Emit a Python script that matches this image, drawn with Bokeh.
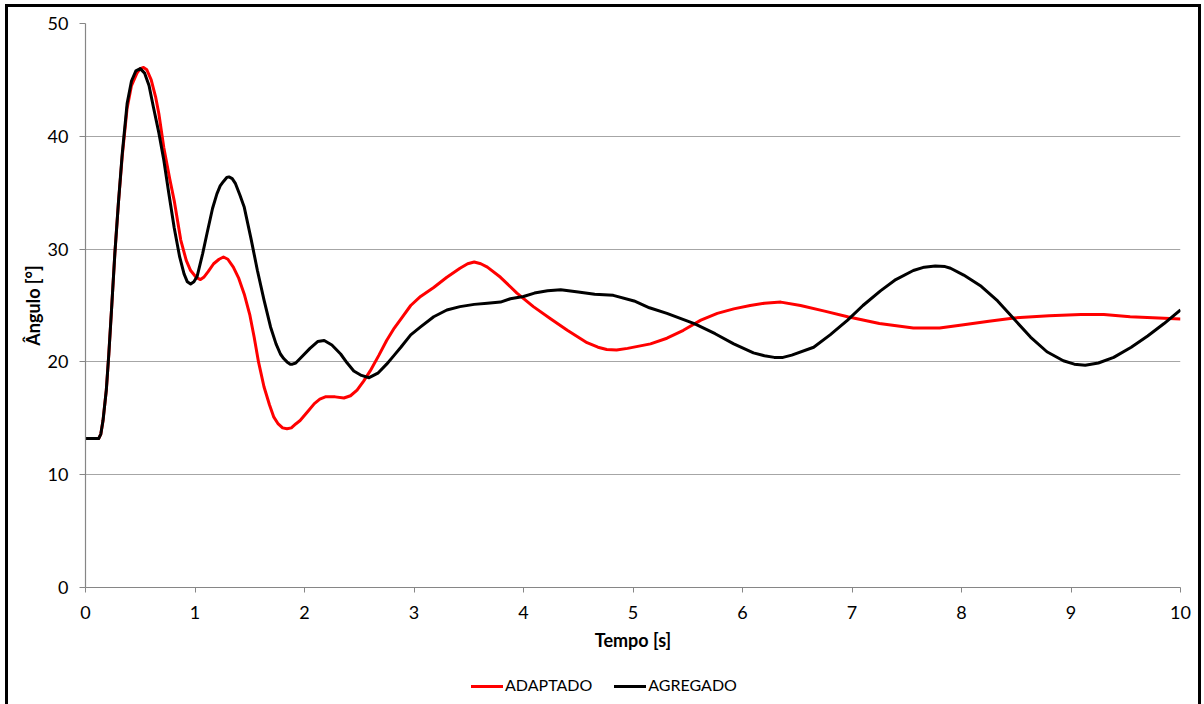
from bokeh.plotting import figure
from bokeh.layouts import column
from bokeh.models import Range1d, FixedTicker, InlineStyleSheet, Div
from bokeh.embed import file_html
from bokeh.resources import INLINE

# Rotor angle response of the two models [s, degrees]
t_adaptado = [0, 0.12, 0.14, 0.16, 0.19, 0.213, 0.24, 0.268, 0.30, 0.335, 0.38, 0.42, 0.47,
              0.50, 0.53, 0.56, 0.60, 0.64, 0.67, 0.715, 0.77, 0.81, 0.87, 0.92, 0.96,
              1.01, 1.05, 1.08, 1.12, 1.17, 1.22, 1.26, 1.30, 1.35, 1.40, 1.45, 1.50,
              1.54, 1.58, 1.63, 1.68, 1.72, 1.76, 1.80, 1.84, 1.88, 1.92, 1.96, 2.03,
              2.09, 2.14, 2.19, 2.28, 2.36, 2.42, 2.48, 2.54, 2.60, 2.68, 2.75, 2.82,
              2.88, 2.97, 3.06, 3.18, 3.30, 3.42, 3.49, 3.55, 3.61, 3.67, 3.79, 3.94,
              4.09, 4.25, 4.40, 4.58, 4.68, 4.76, 4.85, 4.95, 5.16, 5.31, 5.46, 5.62,
              5.77, 5.92, 6.07, 6.20, 6.35, 6.53, 6.75, 6.96, 7.25, 7.56, 7.80, 8.02,
              8.25, 8.48, 8.80, 9.09, 9.30, 9.54, 9.80, 10.0]
adaptado = [13.2, 13.2, 13.6, 14.8, 17.5, 20.7, 25.0, 29.6, 34.0, 38.2, 42.5, 44.5, 45.6,
            46.0, 46.1, 45.9, 45.0, 43.5, 42.0, 39.0, 36.2, 34.3, 30.8, 29.0, 28.1,
            27.5, 27.3, 27.5, 28.0, 28.7, 29.1, 29.3, 29.1, 28.4, 27.4, 26.0, 24.2,
            22.2, 20.0, 17.8, 16.2, 15.1, 14.5, 14.15, 14.07, 14.15, 14.5, 14.8, 15.6,
            16.3, 16.7, 16.9, 16.9, 16.8, 17.0, 17.5, 18.3, 19.2, 20.6, 21.9, 23.0,
            23.8, 25.0, 25.8, 26.6, 27.5, 28.3, 28.7, 28.85, 28.7, 28.4, 27.5, 26.1,
            24.9, 23.8, 22.8, 21.7, 21.3, 21.1, 21.05, 21.2, 21.6, 22.1, 22.8, 23.7,
            24.3, 24.7, 25.0, 25.2, 25.3, 25.0, 24.5, 24.0, 23.4, 23.0, 23.0, 23.3,
            23.6, 23.9, 24.1, 24.2, 24.2, 24.0, 23.9, 23.8]

t_agregado = [0, 0.12, 0.14, 0.16, 0.19, 0.213, 0.24, 0.268, 0.30, 0.335, 0.38, 0.42, 0.46,
              0.50, 0.54, 0.58, 0.62, 0.67, 0.715, 0.76, 0.81, 0.86, 0.90, 0.93, 0.96,
              0.99, 1.02, 1.07, 1.11, 1.16, 1.20, 1.23, 1.26, 1.29, 1.31, 1.34, 1.37,
              1.41, 1.45, 1.51, 1.57, 1.63, 1.69, 1.74, 1.78, 1.81, 1.84, 1.87, 1.89,
              1.92, 1.96, 2.05, 2.12, 2.18, 2.25, 2.33, 2.39, 2.45, 2.52, 2.59, 2.67,
              2.75, 2.82, 2.88, 2.97, 3.06, 3.18, 3.30, 3.42, 3.55, 3.67, 3.79, 3.88,
              4.00, 4.10, 4.22, 4.34, 4.50, 4.65, 4.82, 5.01, 5.15, 5.31, 5.45, 5.56,
              5.75, 5.92, 6.10, 6.20, 6.29, 6.37, 6.45, 6.65, 6.80, 6.96, 7.10, 7.26,
              7.40, 7.56, 7.66, 7.76, 7.85, 7.90, 8.02, 8.18, 8.33, 8.48, 8.63, 8.78,
              8.93, 9.03, 9.13, 9.25, 9.39, 9.55, 9.70, 9.85, 10.0]
agregado = [13.2, 13.2, 13.6, 14.8, 17.5, 20.7, 25.0, 29.6, 34.0, 38.4, 42.9, 44.9, 45.8,
            46.0, 45.6, 44.5, 42.6, 40.3, 37.9, 35.0, 31.9, 29.3, 27.8, 27.1, 26.9,
            27.1, 27.6, 29.6, 31.4, 33.6, 34.9, 35.6, 36.0, 36.35, 36.4, 36.25, 35.8,
            34.8, 33.7, 31.0, 28.1, 25.5, 23.1, 21.6, 20.7, 20.3, 20.0, 19.8, 19.8,
            19.9, 20.3, 21.2, 21.8, 21.9, 21.5, 20.7, 19.9, 19.2, 18.8, 18.6, 19.0,
            19.8, 20.6, 21.3, 22.4, 23.1, 24.0, 24.6, 24.9, 25.1, 25.2, 25.3, 25.6,
            25.8, 26.1, 26.3, 26.4, 26.2, 26.0, 25.9, 25.4, 24.8, 24.3, 23.8, 23.4,
            22.5, 21.6, 20.8, 20.55, 20.4, 20.4, 20.6, 21.3, 22.4, 23.7, 25.0, 26.3,
            27.3, 28.1, 28.4, 28.5, 28.45, 28.3, 27.7, 26.7, 25.4, 23.8, 22.2, 20.9,
            20.1, 19.8, 19.7, 19.9, 20.4, 21.3, 22.3, 23.4, 24.6]

x_ticks = [0, 1, 2, 3, 4, 5, 6, 7, 8, 9, 10]
y_ticks = [0, 10, 20, 30, 40, 50]

series_names = ["ADAPTADO", "AGREGADO"]
series_colors = ["#ff0000", "#000000"]

FONT = "Lato"
FS = "18px"
AXIS_GREY = "#868686"
GRID_GREY = "#a6a6a6"

p = figure(frame_width=1095, frame_height=564, output_backend="svg", toolbar_location=None,
           x_range=Range1d(0, 10), y_range=Range1d(0, 50),
           min_border_left=85, min_border_right=24, min_border_top=23,
           min_border_bottom=83)
p.outline_line_color = None
p.background_fill_color = "white"
p.border_fill_color = "white"

# grid: horizontal only
p.xgrid.grid_line_color = None
p.ygrid.grid_line_color = GRID_GREY
p.ygrid.grid_line_width = 1
p.ygrid.ticker = FixedTicker(ticks=y_ticks)

for ax in (p.xaxis[0], p.yaxis[0]):
    ax.axis_line_color = AXIS_GREY
    ax.axis_line_width = 1.2
    ax.major_tick_line_color = AXIS_GREY
    ax.major_tick_in = 0
    ax.minor_tick_line_color = None
    ax.major_label_text_font = FONT
    ax.major_label_text_font_size = FS
    ax.major_label_text_color = "black"
    ax.axis_label_text_font = FONT
    ax.axis_label_text_font_size = FS
    ax.axis_label_text_font_style = "bold"
    ax.axis_label_text_color = "black"

p.xaxis.ticker = FixedTicker(ticks=x_ticks)
p.yaxis.ticker = FixedTicker(ticks=y_ticks)
p.xaxis.major_tick_out = 5
p.yaxis.major_tick_out = 6
p.xaxis.major_label_standoff = 13
p.yaxis.major_label_standoff = 11
p.xaxis.axis_label = "Tempo [s]"
p.yaxis.axis_label = "Ângulo [°]"
p.xaxis.axis_label_standoff = 7
p.yaxis.axis_label_standoff = 1

p.line(t_adaptado, adaptado, line_color=series_colors[0], line_width=3, line_join="round")
p.line(t_agregado, agregado, line_color=series_colors[1], line_width=3, line_join="round")

# thin black frame around the whole chart area
p.stylesheets = [InlineStyleSheet(css="""
:host::after {
  content: "";
  position: absolute;
  left: 5px; top: 4px;
  width: 1196px; height: 760px;
  border: 3px solid black;
  box-sizing: border-box;
  pointer-events: none;
  z-index: 10;
}
""")]

# legend row under the x axis title
swatch = ('<span style="display:inline-block;width:32px;height:3px;background:{c};'
          'vertical-align:middle;margin-right:2px"></span>')
items = "".join(
    '<span style="margin-right:{m}px">{s}{n}</span>'.format(
        m=22 if i == 0 else 0, s=swatch.format(c=c), n=n)
    for i, (n, c) in enumerate(zip(series_names, series_colors)))
legend_div = Div(text=items, width=1204, height=29,
                 styles={"font-family": FONT, "font-size": "16px", "color": "black",
                         "line-height": "20px", "padding-left": "466px",
                         "white-space": "nowrap", "background": "white"})

layout = column(p, legend_div, spacing=0)
open("out.html", "w").write(file_html(layout, INLINE))
